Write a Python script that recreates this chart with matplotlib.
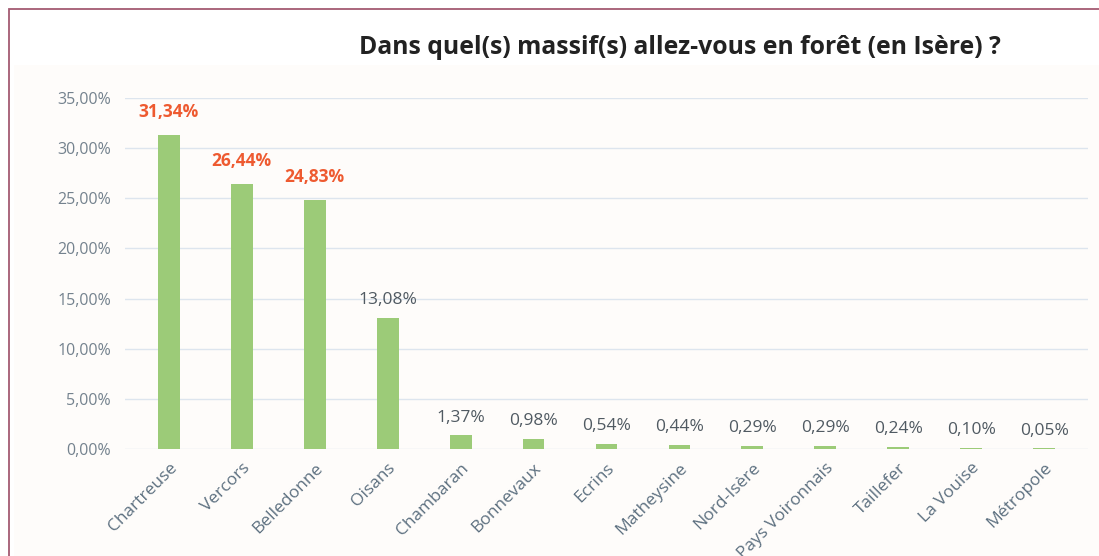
import matplotlib.pyplot as plt
from matplotlib.patches import Rectangle
from matplotlib.ticker import FuncFormatter

plt.rcParams['font.family'] = ['Open Sans', 'DejaVu Sans']

massifs = ['Chartreuse', 'Vercors', 'Belledonne', 'Oisans', 'Chambaran', 'Bonnevaux',
           'Ecrins', 'Matheysine', 'Nord-Isère', 'Pays Voironnais', 'Taillefer',
           'La Vouise', 'Métropole']
percents = [31.34, 26.44, 24.83, 13.08, 1.37, 0.98, 0.54, 0.44, 0.29, 0.29, 0.24, 0.10, 0.05]
top_n = 3  # labels drawn in red

fig = plt.figure(figsize=(10.99, 5.56), dpi=100)
fig.patch.set_facecolor('white')

# pale chart area, behind the axes
fig.patches.append(Rectangle((14 / 1099, 0), 1, (556 - 65) / 556,
                             transform=fig.transFigure, facecolor='#fefcfa',
                             edgecolor='none', zorder=-5))
# maroon frame, cut at right and bottom
fig.patches.append(Rectangle((9 / 1099, -0.1), 1.2, (556 - 9) / 556 + 0.1,
                             transform=fig.transFigure, fill=False,
                             edgecolor='#a45a72', linewidth=1.3, zorder=5))

ax = fig.add_axes([125 / 1099, 1 - 449 / 556, (1088 - 125) / 1099, (449 - 98) / 556])
ax.set_facecolor('none')

x = range(len(massifs))
ax.bar(x, percents, width=0.3, color='#9ccb78', zorder=3)

ax.set_ylim(0, 35)
ax.set_xlim(-0.6, len(massifs) - 0.4)
ax.set_yticks(range(0, 36, 5))
ax.yaxis.set_major_formatter(FuncFormatter(lambda v, p: f'{v:.2f}%'.replace('.', ',')))
ax.grid(axis='y', color='#dde5ee', linewidth=1)
ax.set_axisbelow(True)
for s in ax.spines.values():
    s.set_visible(False)
ax.tick_params(axis='both', length=0)
ax.tick_params(axis='y', labelsize=11.5, labelcolor='#74828e', pad=10)

ax.set_xticks(list(x))
ax.set_xticklabels(massifs, rotation=45, ha='right', rotation_mode='anchor',
                   fontsize=12.5, color='#5d7080')
ax.tick_params(axis='x', pad=8)

for i, v in enumerate(percents):
    txt = f'{v:.2f}%'.replace('.', ',')
    if i < top_n:
        ax.annotate(txt, (i, v), xytext=(0, 10), textcoords='offset points',
                    ha='center', va='bottom', fontsize=12.5, fontweight='bold',
                    color='#ee5a30')
    else:
        ax.annotate(txt, (i, v), xytext=(0, 7), textcoords='offset points',
                    ha='center', va='bottom', fontsize=12.5, color='#505a62')

fig.text(680 / 1099, 1 - 47 / 556, 'Dans quel(s) massif(s) allez-vous en forêt (en Isère) ?',
         ha='center', va='center', fontsize=17.8, fontweight='bold', color='#222222')

fig.savefig('out.png', dpi=100)
